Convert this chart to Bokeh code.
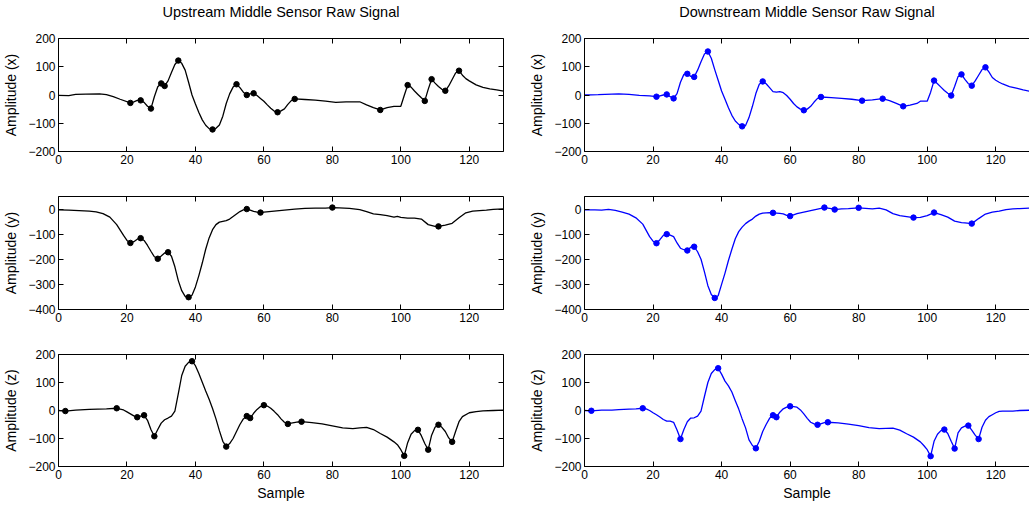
from bokeh.plotting import figure
from bokeh.layouts import column, row
from bokeh.models import FixedTicker, LinearAxis, Range1d
from bokeh.embed import file_html
from bokeh.resources import INLINE

# ---------------- data ----------------
titles = ["Upstream Middle Sensor Raw Signal", "Downstream Middle Sensor Raw Signal"]
y_labels = ["Amplitude (x)", "Amplitude (y)", "Amplitude (z)"]
x_label = "Sample"
x_ticks = [0, 20, 40, 60, 80, 100, 120]
y_ticks_xz = [-200, -100, 0, 100, 200]
y_ticks_y = [-400, -300, -200, -100, 0]

up_x_s = [0, 3, 5, 8, 12, 14, 16, 18, 21, 22, 23, 24, 25, 26, 27, 28, 29, 30, 31, 32, 33, 34, 35, 36, 37, 38, 39, 40,
          41, 42, 43, 44, 45, 46, 47, 48, 49, 50, 51, 52, 53, 54, 55, 56, 57, 58, 59, 60, 61, 62, 63, 64, 65, 66, 67,
          68, 69, 72, 75, 78, 81, 84, 88, 90, 92, 94, 96, 98, 100, 101, 102, 103, 104, 105, 106, 107, 108, 109, 110,
          111, 112, 113, 114, 115, 116, 117, 118, 119, 120, 121, 122, 124, 126, 128, 130]
up_x_v = [-1, -2, 2, 3, 4, 1, -6, -15, -28, -24, -19, -19, -26, -40, -48, -6, 29, 41, 32, 50, 80, 108, 122, 112, 88,
          45, 0, -32, -62, -88, -107, -119, -122, -118, -106, -75, -30, 4, 28, 38, 26, 10, 0, 4, 6, -2, -12, -22, -35,
          -47, -57, -61, -56, -49, -33, -20, -14, -16, -18, -22, -26, -24, -24, -35, -45, -53, -45, -40, -40, -2, 35,
          28, 14, 2, -10, -21, 20, 56, 42, 30, 20, 15, 32, 55, 78, 86, 70, 58, 50, 43, 36, 27, 22, 18, 14]
up_x_peaks = [21, 24, 27, 30, 31, 35, 45, 52, 55, 57, 64, 69, 94, 102, 107, 109, 113, 117]

up_y_s = [0, 3, 6, 9, 11, 13, 15, 17, 19, 20, 21, 22, 23, 24, 25, 26, 27, 28, 29, 30, 31, 32, 33, 34, 35, 36, 37, 38,
          39, 40, 41, 42, 43, 44, 45, 46, 47, 48, 49, 50, 51, 52, 53, 54, 55, 56, 57, 58, 59, 60, 63, 66, 69, 72, 75,
          78, 80, 82, 85, 88, 90, 92, 94, 96, 98, 99, 100, 102, 104, 106, 108, 110, 111, 113, 115, 117, 119, 121, 123,
          125, 127, 130]
up_y_v = [-3, -4, -6, -8, -11, -18, -32, -62, -105, -125, -135, -130, -120, -116, -125, -145, -168, -190, -198, -187,
          -175, -172, -188, -230, -285, -325, -348, -351, -343, -310, -265, -215, -160, -115, -82, -62, -52, -49, -46,
          -40, -30, -20, -10, -3, 0, -4, -9, -12, -14, -12, -8, -4, 0, 3, 4, 4, 6, 5, 3, -2, -10, -19, -22, -26, -32,
          -29, -33, -36, -36, -40, -62, -69, -69, -64, -57, -35, -15, -8, -6, -4, -1, 1]
up_y_peaks = [21, 24, 29, 32, 38, 55, 59, 80, 111]

up_z_s = [0, 2, 5, 9, 14, 17, 19, 20, 21, 22, 23, 24, 25, 26, 27, 28, 29, 30, 31, 32, 33, 34, 35, 36, 37, 38, 39, 40,
          41, 42, 43, 44, 45, 46, 47, 48, 49, 50, 51, 52, 53, 54, 55, 56, 57, 58, 59, 60, 61, 62, 63, 64, 65, 66, 67,
          68, 70, 71, 74, 77, 80, 83, 86, 88, 90, 92, 94, 96, 98, 99, 100, 101, 102, 103, 104, 105, 106, 107, 108, 109,
          110, 111, 112, 113, 114, 115, 116, 117, 118, 120, 122, 124, 127, 130]
up_z_v = [0, -2, 1, 4, 6, 8, 2, -5, -12, -19, -24, -20, -17, -35, -68, -92, -68, -45, -33, -27, -20, -2, 60, 125, 158,
          172, 176, 160, 132, 101, 70, 40, 7, -30, -72, -110, -129, -118, -100, -75, -50, -30, -20, -27, -10, 4, 14, 19,
          16, 8, -3, -15, -30, -42, -48, -45, -41, -40, -43, -48, -55, -62, -65, -62, -60, -68, -82, -95, -112, -122,
          -140, -162, -115, -85, -72, -69, -90, -118, -140, -88, -60, -51, -60, -75, -98, -112, -75, -40, -22, -8, -4,
          -1, 0, 1]
up_z_peaks = [2, 17, 23, 25, 28, 39, 49, 55, 56, 60, 67, 71, 101, 105, 108, 111, 115]

dn_x_s = [0, 4, 8, 10, 13, 16, 19, 21, 22, 23, 24, 25, 26, 27, 28, 29, 30, 31, 32, 33, 34, 35, 36, 37, 38, 39, 40, 41,
          42, 43, 44, 45, 46, 47, 48, 49, 50, 51, 52, 53, 54, 55, 56, 57, 58, 59, 60, 61, 62, 63, 64, 65, 66, 67, 68,
          69, 72, 75, 78, 81, 84, 87, 89, 91, 93, 95, 97, 98, 100, 101, 102, 103, 104, 105, 106, 107, 108, 109, 110,
          111, 112, 113, 114, 115, 116, 117, 118, 119, 120, 121, 122, 124, 126, 128, 130]
dn_x_v = [0, 1, 3, 4, 2, -1, -3, -6, -3, 0, 2, -6, -12, 5, 45, 73, 75, 66, 64, 88, 118, 145, 154, 130, 90, 52, 14, -15,
          -45, -72, -92, -104, -111, -108, -80, -40, 5, 38, 48, 40, 26, 12, 10, 12, 8, -2, -15, -30, -42, -50, -54, -50,
          -40, -25, -12, -7, -9, -12, -15, -20, -17, -13, -20, -30, -40, -36, -30, -22, -22, 10, 51, 40, 28, 16, 6, -2,
          30, 65, 73, 55, 40, 33, 50, 70, 90, 98, 82, 62, 52, 45, 39, 30, 24, 18, 13]
dn_x_peaks = [21, 24, 26, 30, 32, 36, 46, 52, 64, 69, 81, 87, 93, 102, 107, 110, 113, 117]

dn_y_s = [0, 3, 5, 7, 9, 11, 13, 15, 17, 18, 19, 20, 21, 22, 23, 24, 25, 26, 27, 28, 29, 30, 31, 32, 33, 34, 35, 36,
          37, 38, 39, 40, 41, 42, 43, 44, 45, 46, 47, 48, 49, 50, 51, 52, 53, 54, 55, 56, 57, 58, 59, 60, 62, 64, 66,
          68, 70, 71, 72, 73, 75, 77, 80, 82, 84, 86, 88, 90, 92, 94, 96, 98, 100, 102, 104, 106, 108, 110, 111, 113,
          115, 117, 119, 121, 123, 125, 127, 130]
dn_y_v = [-3, -3, -4, -1, -5, -12, -20, -35, -60, -85, -110, -128, -136, -122, -105, -100, -104, -110, -135, -156, -162,
          -165, -152, -150, -170, -200, -250, -305, -340, -354, -345, -300, -255, -205, -160, -118, -90, -72, -58, -48,
          -40, -28, -20, -16, -15, -14, -15, -16, -17, -19, -25, -28, -18, -12, -6, 0, 6, 4, 2, -2, 1, 2, 5, 3, 1, 4,
          -3, -18, -26, -30, -34, -33, -26, -14, -22, -32, -48, -54, -55, -58, -38, -20, -12, -8, -2, 1, 2, 4]
dn_y_peaks = [21, 24, 30, 32, 38, 55, 60, 70, 73, 80, 96, 102, 113]

dn_z_s = [0, 2, 5, 8, 10, 13, 15, 17, 18, 19, 20, 21, 22, 23, 24, 25, 26, 27, 28, 29, 30, 31, 32, 33, 34, 35, 36, 37,
          38, 39, 40, 41, 42, 43, 44, 45, 46, 47, 48, 49, 50, 51, 52, 53, 54, 55, 56, 57, 58, 59, 60, 61, 62, 63, 64,
          65, 66, 67, 68, 70, 71, 74, 77, 80, 83, 86, 88, 90, 92, 94, 96, 98, 99, 100, 101, 102, 103, 104, 105, 106,
          107, 108, 109, 110, 111, 112, 113, 114, 115, 116, 117, 118, 119, 120, 121, 122, 125, 127, 130]
dn_z_v = [0, -1, 1, 1, 3, 5, 6, 8, 6, 0, -8, -15, -23, -32, -38, -38, -42, -70, -102, -68, -40, -27, -26, -20, -2, 50,
          100, 132, 146, 151, 130, 105, 88, 66, 35, 5, -30, -62, -105, -125, -135, -110, -75, -50, -28, -17, -24, -6, 6,
          12, 15, 14, 12, 2, -12, -28, -42, -48, -51, -43, -42, -44, -49, -54, -61, -65, -64, -63, -70, -83, -95, -112,
          -125, -140, -163, -110, -85, -72, -68, -82, -110, -136, -80, -62, -56, -54, -70, -88, -102, -60, -35, -22,
          -15, -8, -3, -2, -2, 0, 1]
dn_z_peaks = [2, 17, 28, 39, 50, 55, 56, 60, 68, 71, 101, 105, 108, 112, 115]

# ---------------- styling / layout ----------------
FONT = "Liberation Sans"
TICK_FS = "12px"
LABEL_FS = "14px"
TITLE_FS = "14.5px"


def minus(v):
    return str(v).replace("-", "\u2212")


def style_axis(ax, ticks, show_labels=True):
    ax.ticker = FixedTicker(ticks=ticks)
    ax.major_tick_in = 5
    ax.major_tick_out = 0
    ax.minor_tick_line_color = None
    ax.axis_line_color = "black"
    ax.axis_line_width = 1
    ax.major_tick_line_color = "black"
    ax.major_label_text_font = FONT
    ax.major_label_text_color = "black"
    ax.major_label_standoff = 3
    ax.axis_label_text_font = FONT
    ax.axis_label_text_font_size = LABEL_FS
    ax.axis_label_text_font_style = "normal"
    ax.axis_label_text_color = "black"
    if show_labels:
        ax.major_label_text_font_size = TICK_FS
        ax.major_label_overrides = {t: minus(t) for t in ticks}
    else:
        ax.major_label_text_font_size = "0px"
        ax.major_label_text_color = None
        ax.major_label_text_alpha = 0
        ax.major_label_standoff = 0


def panel(xs, ys, peaks, color, yr, yticks, ylabel, col, rowi, title=None, xlabel=None):
    heights = [173, 158, 179]
    tops = [38, 23, 23]
    bottoms = [22, 22, 44]
    if col == 0:
        w, bl, br, xend = 520, 58, 17, 130
    else:
        w, bl, br, xend = 509, 64, 0, 129.85
    p = figure(width=w, height=heights[rowi], output_backend="svg", toolbar_location=None,
               x_range=Range1d(0, xend), y_range=Range1d(*yr),
               min_border_left=bl, min_border_right=br,
               min_border_top=tops[rowi], min_border_bottom=bottoms[rowi])
    p.outline_line_color = None
    p.grid.visible = False
    p.background_fill_color = "white"
    p.border_fill_color = "white"
    style_axis(p.xaxis[0], x_ticks)
    style_axis(p.yaxis[0], yticks)
    p.yaxis[0].axis_label = ylabel
    p.yaxis[0].axis_label_standoff = 6
    if xlabel:
        p.xaxis[0].axis_label = xlabel
        p.xaxis[0].axis_label_standoff = 3
    top = LinearAxis()
    style_axis(top, x_ticks, show_labels=False)
    if title:
        # the panel title sits above the top box edge
        top.axis_label = title
        top.axis_label_text_font_size = TITLE_FS
        top.axis_label_standoff = 19
    p.add_layout(top, "above")
    if col == 0:
        right = LinearAxis()
        style_axis(right, yticks, show_labels=False)
        p.add_layout(right, "right")
    p.line(xs, ys, line_color=color, line_width=1.3)
    lookup = dict(zip(xs, ys))
    p.scatter(peaks, [lookup[k] for k in peaks], size=5.5, fill_color=color, line_color=color)
    return p


BLACK, BLUE = "black", "#0000ff"

p11 = panel(up_x_s, up_x_v, up_x_peaks, BLACK, (-200, 200), y_ticks_xz, y_labels[0], 0, 0, title=titles[0])
p21 = panel(up_y_s, up_y_v, up_y_peaks, BLACK, (-400, 50), y_ticks_y, y_labels[1], 0, 1)
p31 = panel(up_z_s, up_z_v, up_z_peaks, BLACK, (-200, 200), y_ticks_xz, y_labels[2], 0, 2, xlabel=x_label)
p12 = panel(dn_x_s, dn_x_v, dn_x_peaks, BLUE, (-200, 200), y_ticks_xz, y_labels[0], 1, 0, title=titles[1])
p22 = panel(dn_y_s, dn_y_v, dn_y_peaks, BLUE, (-400, 50), y_ticks_y, y_labels[1], 1, 1)
p32 = panel(dn_z_s, dn_z_v, dn_z_peaks, BLUE, (-200, 200), y_ticks_xz, y_labels[2], 1, 2, xlabel=x_label)

layout = column(row(p11, p12), row(p21, p22), row(p31, p32))
open("out.html", "w").write(file_html(layout, INLINE))
